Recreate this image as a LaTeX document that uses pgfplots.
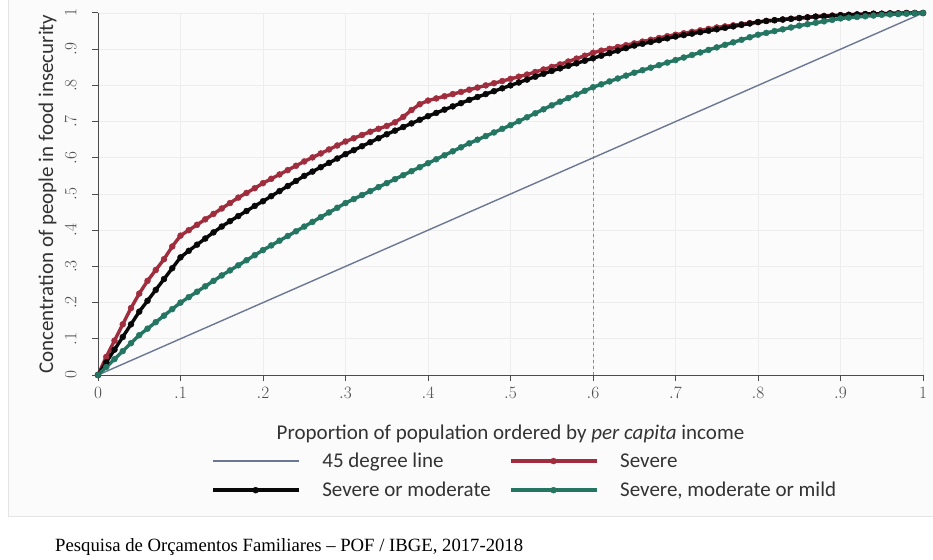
\documentclass[border=0pt]{standalone}
\usepackage{pgfplots}
\pgfplotsset{compat=1.18}
\usepackage{fontspec}
\setmainfont{Liberation Serif}
\newfontfamily\labelfont{Carlito}

\definecolor{sevred}{RGB}{160,45,62}
\definecolor{modblack}{RGB}{8,8,8}
\definecolor{mildteal}{RGB}{36,118,98}
\definecolor{diagline}{RGB}{70,85,120}

% concentration curves, x = population share ordered by per capita income
\pgfplotstableread{
x     y
0.00 0
0.01 0.05
0.02 0.095
0.03 0.14
0.04 0.185
0.05 0.225
0.06 0.26
0.07 0.29
0.08 0.32
0.09 0.355
0.10 0.385
0.11 0.40
0.12 0.415
0.13 0.43
0.14 0.445
0.15 0.46
0.16 0.475
0.17 0.49
0.18 0.503
0.19 0.516
0.20 0.53
0.21 0.542
0.22 0.554
0.23 0.566
0.24 0.578
0.25 0.59
0.26 0.601
0.27 0.612
0.28 0.623
0.29 0.634
0.30 0.645
0.31 0.654
0.32 0.663
0.33 0.672
0.34 0.68
0.35 0.688
0.36 0.698
0.37 0.713
0.38 0.732
0.39 0.748
0.40 0.758
0.41 0.764
0.42 0.77
0.43 0.776
0.44 0.782
0.45 0.788
0.46 0.794
0.47 0.80
0.48 0.806
0.49 0.812
0.50 0.818
0.51 0.824
0.52 0.83
0.53 0.837
0.54 0.844
0.55 0.851
0.56 0.858
0.57 0.866
0.58 0.874
0.59 0.882
0.60 0.89
0.61 0.896
0.62 0.901
0.63 0.906
0.64 0.911
0.65 0.916
0.66 0.921
0.67 0.926
0.68 0.931
0.69 0.936
0.70 0.94
0.71 0.944
0.72 0.948
0.73 0.952
0.74 0.956
0.75 0.96
0.76 0.963
0.77 0.966
0.78 0.969
0.79 0.972
0.80 0.975
0.81 0.978
0.82 0.98
0.83 0.982
0.84 0.984
0.85 0.986
0.86 0.988
0.87 0.99
0.88 0.992
0.89 0.993
0.90 0.994
0.91 0.995
0.92 0.996
0.93 0.997
0.94 0.998
0.95 0.998
0.96 0.999
0.97 0.999
0.98 1
0.99 1
1.00 1
}\severe

\pgfplotstableread{
x     y
0.00 0
0.01 0.035
0.02 0.07
0.03 0.105
0.04 0.14
0.05 0.175
0.06 0.205
0.07 0.235
0.08 0.265
0.09 0.295
0.10 0.325
0.11 0.343
0.12 0.36
0.13 0.377
0.14 0.394
0.15 0.41
0.16 0.425
0.17 0.439
0.18 0.453
0.19 0.467
0.20 0.48
0.21 0.494
0.22 0.508
0.23 0.522
0.24 0.536
0.25 0.55
0.26 0.562
0.27 0.574
0.28 0.586
0.29 0.598
0.30 0.61
0.31 0.621
0.32 0.632
0.33 0.643
0.34 0.654
0.35 0.665
0.36 0.675
0.37 0.685
0.38 0.695
0.39 0.705
0.40 0.715
0.41 0.724
0.42 0.733
0.43 0.742
0.44 0.751
0.45 0.76
0.46 0.768
0.47 0.776
0.48 0.784
0.49 0.792
0.50 0.80
0.51 0.808
0.52 0.816
0.53 0.824
0.54 0.832
0.55 0.84
0.56 0.847
0.57 0.854
0.58 0.861
0.59 0.868
0.60 0.875
0.61 0.882
0.62 0.889
0.63 0.896
0.64 0.903
0.65 0.91
0.66 0.915
0.67 0.92
0.68 0.925
0.69 0.93
0.70 0.935
0.71 0.939
0.72 0.943
0.73 0.947
0.74 0.951
0.75 0.955
0.76 0.959
0.77 0.963
0.78 0.967
0.79 0.971
0.80 0.975
0.81 0.978
0.82 0.98
0.83 0.982
0.84 0.984
0.85 0.986
0.86 0.988
0.87 0.99
0.88 0.991
0.89 0.992
0.90 0.994
0.91 0.995
0.92 0.996
0.93 0.997
0.94 0.998
0.95 0.998
0.96 0.999
0.97 0.999
0.98 1
0.99 1
1.00 1
}\moderate

\pgfplotstableread{
x     y
0.00 0
0.01 0.022
0.02 0.044
0.03 0.066
0.04 0.088
0.05 0.11
0.06 0.128
0.07 0.146
0.08 0.164
0.09 0.182
0.10 0.20
0.11 0.215
0.12 0.23
0.13 0.245
0.14 0.26
0.15 0.275
0.16 0.289
0.17 0.303
0.18 0.317
0.19 0.331
0.20 0.345
0.21 0.358
0.22 0.371
0.23 0.384
0.24 0.397
0.25 0.41
0.26 0.423
0.27 0.436
0.28 0.449
0.29 0.462
0.30 0.475
0.31 0.486
0.32 0.497
0.33 0.508
0.34 0.519
0.35 0.53
0.36 0.541
0.37 0.552
0.38 0.563
0.39 0.574
0.40 0.585
0.41 0.596
0.42 0.607
0.43 0.618
0.44 0.629
0.45 0.64
0.46 0.65
0.47 0.66
0.48 0.67
0.49 0.68
0.50 0.69
0.51 0.701
0.52 0.712
0.53 0.723
0.54 0.734
0.55 0.745
0.56 0.755
0.57 0.765
0.58 0.775
0.59 0.785
0.60 0.795
0.61 0.803
0.62 0.811
0.63 0.819
0.64 0.827
0.65 0.835
0.66 0.842
0.67 0.849
0.68 0.856
0.69 0.863
0.70 0.87
0.71 0.877
0.72 0.884
0.73 0.891
0.74 0.898
0.75 0.905
0.76 0.912
0.77 0.919
0.78 0.926
0.79 0.933
0.80 0.94
0.81 0.945
0.82 0.95
0.83 0.955
0.84 0.96
0.85 0.965
0.86 0.969
0.87 0.973
0.88 0.977
0.89 0.981
0.90 0.985
0.91 0.987
0.92 0.989
0.93 0.991
0.94 0.993
0.95 0.995
0.96 0.996
0.97 0.997
0.98 0.998
0.99 0.999
1.00 1
}\mild

\begin{document}
\begin{tikzpicture}
\path[use as bounding box] (0pt,0pt) rectangle (933pt,-559pt);
% light panel behind the chart
\draw[black!10, fill=black!1.5, line width=1pt] (8pt,2pt) rectangle (940pt,-516pt);

\begin{axis}[
  at={(98pt,-375pt)}, anchor=south west,
  scale only axis, width=825pt, height=362pt,
  xmin=0, xmax=1, ymin=0, ymax=1,
  axis lines*=left,
  axis line style={black!70, line width=1pt},
  tick align=outside, major tick length=6pt,
  tick style={black!70, line width=1pt},
  xtick={0,0.1,...,1.01}, ytick={0,0.1,...,1.01},
  xticklabels={$0$,$.1$,$.2$,$.3$,$.4$,$.5$,$.6$,$.7$,$.8$,$.9$,$1$},
  yticklabels={$0$,$.1$,$.2$,$.3$,$.4$,$.5$,$.6$,$.7$,$.8$,$.9$,$1$},
  ticklabel style={font=\fontsize{16}{18}\selectfont, black!70},
  yticklabel style={rotate=90, anchor=south},
  yticklabel shift=12pt,
  xticklabel shift=3pt,
  grid=major, grid style={black!7, line width=0.8pt},
  xlabel={Proportion of population ordered by \emph{per capita} income},
  ylabel={Concentration of people in food insecurity},
  label style={font=\labelfont\fontsize{21}{24}\selectfont, black!80},
  xlabel style={yshift=-19pt},
  ylabel style={yshift=2pt},
  clip=false,
  legend columns=2,
  legend style={
    at={(0.517,-0.204)}, anchor=north, draw=none, fill=none,
    font=\labelfont\fontsize{21}{24}\selectfont,
    text=black!80,
    row sep=9pt,
    /tikz/every odd column/.append style={column sep=20pt},
    /tikz/every even column/.append style={column sep=16pt},
  },
  legend cell align=left,
  legend image code/.code={
    \draw[#1, mark repeat=2, mark phase=2] plot coordinates {(0pt,0pt) (43pt,0pt) (86pt,0pt)};
  },
]
\addplot[forget plot, black!45, dashed, line width=0.8pt] coordinates {(0.6,0) (0.6,1)};

\addplot[diagline!80, line width=1.4pt] coordinates {(0,0) (1,1)};
\addlegendentry{45 degree line}

\addplot[sevred, line width=3.4pt, mark=*, mark size=3pt,
  mark options={fill=sevred, draw=sevred, line width=0.4pt}] table {\severe};
\addlegendentry{Severe}

\addplot[modblack, line width=3.4pt, mark=*, mark size=3pt,
  mark options={fill=modblack, draw=modblack, line width=0.4pt}] table {\moderate};
\addlegendentry{Severe or moderate}

\addplot[mildteal, line width=3.4pt, mark=*, mark size=3pt,
  mark options={fill=mildteal, draw=mildteal, line width=0.4pt}] table {\mild};
\addlegendentry{Severe, moderate or mild}
\end{axis}

\node[anchor=base west, font=\fontsize{18.7}{22}\selectfont, inner sep=0pt]
  at (55pt,-551pt) {Pesquisa de Orçamentos Familiares – POF / IBGE, 2017-2018};
\end{tikzpicture}
\end{document}
